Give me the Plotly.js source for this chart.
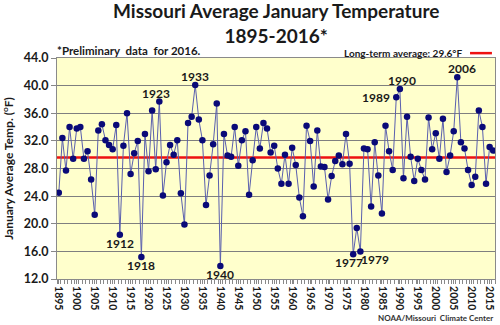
<!DOCTYPE html>
<html>
<head>
<meta charset="utf-8">
<script src="https://cdn.plot.ly/plotly-3.0.1.min.js"></script>
<style>html,body{margin:0;padding:0;background:#fff}#chart{width:500px;height:325px}</style>
</head>
<body>
<div id="chart"></div>
<script>
// ---- data ----
const firstYear = 1895;
const temps = [
  24.5, 32.4, 27.7, 34.0, 29.4,                               // 1895-1899
  33.8, 34.0, 29.4, 30.5, 26.4, 21.3, 33.5, 34.4, 32.1, 31.4, // 1900s
  30.8, 34.3, 18.4, 31.3, 36.0, 27.2, 30.2, 32.0, 15.2, 33.0, // 1910s
  27.6, 36.4, 27.9, 37.7, 24.1, 28.9, 31.4, 30.0, 32.1, 24.4, // 1920s
  19.9, 34.6, 35.5, 40.1, 35.1, 32.1, 22.7, 27.0, 31.5, 37.4, // 1930s
  13.9, 33.0, 29.9, 29.7, 34.0, 28.4, 32.1, 33.4, 24.2, 29.2, // 1940s
  34.0, 30.9, 34.6, 33.8, 30.3, 31.3, 28.0, 25.8, 30.0, 25.8, // 1950s
  31.0, 28.5, 23.8, 21.1, 34.2, 32.0, 25.4, 33.5, 28.3, 28.2, // 1960s
  23.5, 26.9, 29.1, 29.9, 28.6, 33.0, 28.7, 15.6, 19.4, 16.0, // 1970s
  30.9, 30.8, 22.5, 31.8, 27.0, 21.5, 34.2, 30.5, 27.8, 38.3, // 1980s
  39.5, 26.6, 35.5, 29.7, 26.2, 29.4, 27.8, 26.4, 35.4, 30.8, // 1990s
  33.1, 29.4, 35.2, 27.5, 29.9, 33.4, 41.2, 31.8, 30.9, 27.8, // 2000s
  25.6, 26.8, 36.4, 34.0, 25.8, 31.1, 30.6                    // 2010-2016
];
const years = temps.map((_, i) => firstYear + i);
const longTermAvg = 29.6;
const labelYears = [1912, 1918, 1923, 1933, 1940, 1977, 1979, 1989, 1990, 2006];
const labelPlacement = ['below','below','above','above','below','below','below','left','above','above'];
const xTickLabels = ['1895','1900','1905','1910','1915','1920','1925','1930','1935','1940','1945','1950','1955','1960','1965','1970','1975','1980','1985','1990','1995','2000','2005','2010','2015'];
const yTickValues = [12, 16, 20, 24, 28, 32, 36, 40, 44];

// ---- chart ----
const FONT = 'Lato, "Open Sans", sans-serif';
const INK = '#1a1a1a';

const trace = {
  x: years, y: temps, type: 'scatter', mode: 'lines+markers',
  line: {color: '#5a5fae', width: 1},
  marker: {color: '#0a0a78', size: 6.5},
  hoverinfo: 'x+y', showlegend: false
};

const extraX = {1923: -3, 1977: -4, 1979: 15, 1990: 2, 2006: 5};

const annotations = labelYears.map((yr, k) => {
  const p = labelPlacement[k];
  return {
    x: yr, y: temps[yr - firstYear], xref: 'x', yref: 'y',
    text: '<b>' + yr + '</b>', showarrow: false,
    font: {family: FONT, size: 12, color: INK},
    xanchor: p === 'left' ? 'right' : 'center',
    yanchor: p === 'below' ? 'top' : (p === 'above' ? 'bottom' : 'middle'),
    xshift: (p === 'left' ? -4 : 0) + (extraX[yr] || 0),
    yshift: p === 'below' ? 1 : (p === 'above' ? -1 : 0)
  };
});

annotations.push({
  x: 0.5, y: 1.276, xref: 'paper', yref: 'paper', xanchor: 'center', yanchor: 'top',
  text: '<b>Missouri Average January Temperature<br>1895-2016*</b>', showarrow: false,
  font: {family: FONT, size: 19, color: INK}
});
annotations.push({
  x: -0.004, y: 1.036, xref: 'paper', yref: 'paper', xanchor: 'left', yanchor: 'middle',
  text: '<b>*Preliminary  data  for 2016.</b>', showarrow: false,
  font: {family: FONT, size: 11.5, color: INK}
});
annotations.push({
  x: 0.932, y: 1.022, xref: 'paper', yref: 'paper', xanchor: 'right', yanchor: 'middle',
  text: '<b>Long-term average: ' + longTermAvg.toFixed(1) + '°F</b>', showarrow: false,
  font: {family: FONT, size: 10, color: INK}
});
annotations.push({
  x: 1.0, y: -0.178, xref: 'paper', yref: 'paper', xanchor: 'right', yanchor: 'middle',
  text: '<b>NOAA/Missouri  Climate Center</b>', showarrow: false,
  font: {family: FONT, size: 8, color: '#333'}
});

const layout = {
  width: 500, height: 325,
  margin: {l: 57, r: 5, t: 58, b: 46},
  paper_bgcolor: '#ffffff', plot_bgcolor: '#ffffcc',
  font: {family: FONT, color: INK},
  xaxis: {
    range: [firstYear - 0.5, years[years.length - 1] + 0.5],
    tickmode: 'array', tickvals: xTickLabels.map(Number), ticktext: xTickLabels.map(t => '<b>' + t + '</b>'),
    tickangle: 90, tickfont: {family: FONT, size: 10.5, color: INK},
    ticks: 'outside', ticklen: 4, tickcolor: '#888',
    minor: {tick0: firstYear - 0.5, dtick: 1, ticks: 'outside', ticklen: 4, tickcolor: '#888', showgrid: false},
    showgrid: false, zeroline: false,
    showline: true, linecolor: '#8a8a8a', linewidth: 1, mirror: true, fixedrange: true
  },
  yaxis: {
    range: [12, 44], tickmode: 'array', tickvals: yTickValues,
    ticktext: yTickValues.map(v => '<b>' + v.toFixed(1) + '</b>'),
    tickfont: {family: FONT, size: 12.5, color: INK},
    ticks: 'outside', ticklen: 5, tickcolor: '#888',
    showgrid: true, gridcolor: '#7f7f7f', gridwidth: 1, zeroline: false,
    showline: true, linecolor: '#8a8a8a', linewidth: 1, mirror: true,
    title: {text: '<b>January Average Temp. (<sup>o</sup>F)</b>', font: {family: FONT, size: 12, color: INK}, standoff: 8},
    fixedrange: true
  },
  shapes: [
    {type: 'line', xref: 'paper', x0: 0, x1: 1, yref: 'y', y0: longTermAvg, y1: longTermAvg,
     line: {color: '#ee1111', width: 2.5}, layer: 'below'},
    {type: 'line', xref: 'paper', x0: 0.943, x1: 0.993, yref: 'paper', y0: 1.022, y1: 1.022,
     line: {color: '#ee1111', width: 2.5}}
  ],
  annotations: annotations
};

Plotly.newPlot('chart', [trace], layout, {displayModeBar: false, staticPlot: true});
</script>
</body>
</html>
